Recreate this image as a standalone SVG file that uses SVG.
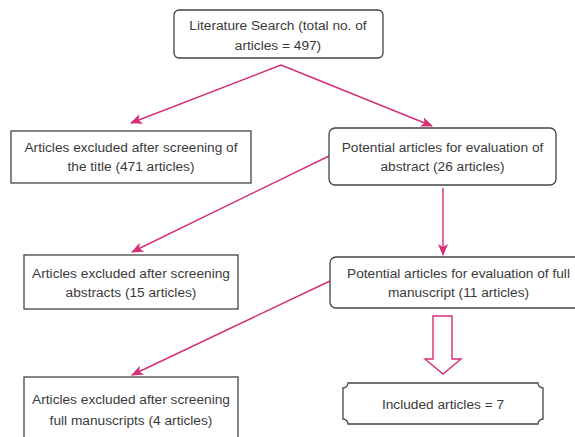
<svg xmlns="http://www.w3.org/2000/svg" width="575" height="437" viewBox="0 0 575 437">
  <style>
    .box { fill: #ffffff; stroke: #444444; stroke-width: 1.3; }
    .lbl { font-family: "Liberation Sans", Arial, sans-serif; font-size: 13.7px; fill: #3a3a3a; text-anchor: middle; }
    .link { fill: none; stroke: #d42f78; stroke-width: 1.4; }
    .block { fill: #ffffff; stroke: #d42f78; stroke-width: 1.4; stroke-linejoin: miter; }
  </style>
  <defs>
    <marker id="head" viewBox="0 0 12 10" refX="11" refY="5" markerWidth="12" markerHeight="10" markerUnits="userSpaceOnUse" orient="auto">
      <path d="M0,0 L12,5 L0,10 L3,5 Z" fill="#d42f78"/>
    </marker>
  </defs>

  <rect width="575" height="437" fill="#ffffff"/>

  <!-- connectors -->
  <g id="connectors">
    <path class="link" d="M281,65 L131,123" marker-end="url(#head)"/>
    <path class="link" d="M281,65 L432,126" marker-end="url(#head)"/>
    <path class="link" d="M329,156 L132,252" marker-end="url(#head)"/>
    <path class="link" d="M443,188 L443,255" marker-end="url(#head)"/>
    <path class="link" d="M330,281 L132,375" marker-end="url(#head)"/>
    <polygon class="block" points="433,316 452,316 452,359 461,359 443,374 425,359 433,359"/>
  </g>

  <!-- search -->
  <g id="search">
    <rect class="box" x="174" y="10" width="209" height="48" rx="5"/>
    <text class="lbl" x="278" y="30">Literature Search (total no. of</text>
    <text class="lbl" x="278" y="50">articles = 497)</text>
  </g>

  <!-- excluded after title -->
  <g id="excluded-title">
    <rect class="box" x="11" y="131" width="240" height="52"/>
    <text class="lbl" x="131" y="152">Articles excluded after screening of</text>
    <text class="lbl" x="131" y="171">the title (471 articles)</text>
  </g>

  <!-- abstract evaluation -->
  <g id="abstract-eval">
    <rect class="box" x="329" y="128" width="227" height="57" rx="6"/>
    <text class="lbl" x="442.5" y="152">Potential articles for evaluation of</text>
    <text class="lbl" x="442.5" y="171">abstract (26 articles)</text>
  </g>

  <!-- excluded after abstracts -->
  <g id="excluded-abstracts">
    <rect class="box" x="24" y="255" width="214" height="54"/>
    <text class="lbl" x="131" y="278">Articles excluded after screening</text>
    <text class="lbl" x="131" y="297">abstracts (15 articles)</text>
  </g>

  <!-- full manuscript evaluation -->
  <g id="manuscript-eval">
    <rect class="box" x="330" y="257" width="256" height="51" rx="6"/>
    <text class="lbl" x="458.5" y="278">Potential articles for evaluation of full</text>
    <text class="lbl" x="458.5" y="297">manuscript (11 articles)</text>
  </g>

  <!-- excluded after full manuscripts -->
  <g id="excluded-manuscripts">
    <rect class="box" x="24" y="377" width="214" height="70"/>
    <text class="lbl" x="131" y="404">Articles excluded after screening</text>
    <text class="lbl" x="131" y="425">full manuscripts (4 articles)</text>
  </g>

  <!-- included -->
  <g id="included">
    <path class="box" d="M348,383 H538 A5,5 0 0 0 543,388 V419 A5,5 0 0 0 538,424 H348 A5,5 0 0 0 343,419 V388 A5,5 0 0 0 348,383 Z"/>
    <text class="lbl" x="443" y="409">Included articles = 7</text>
  </g>
</svg>
